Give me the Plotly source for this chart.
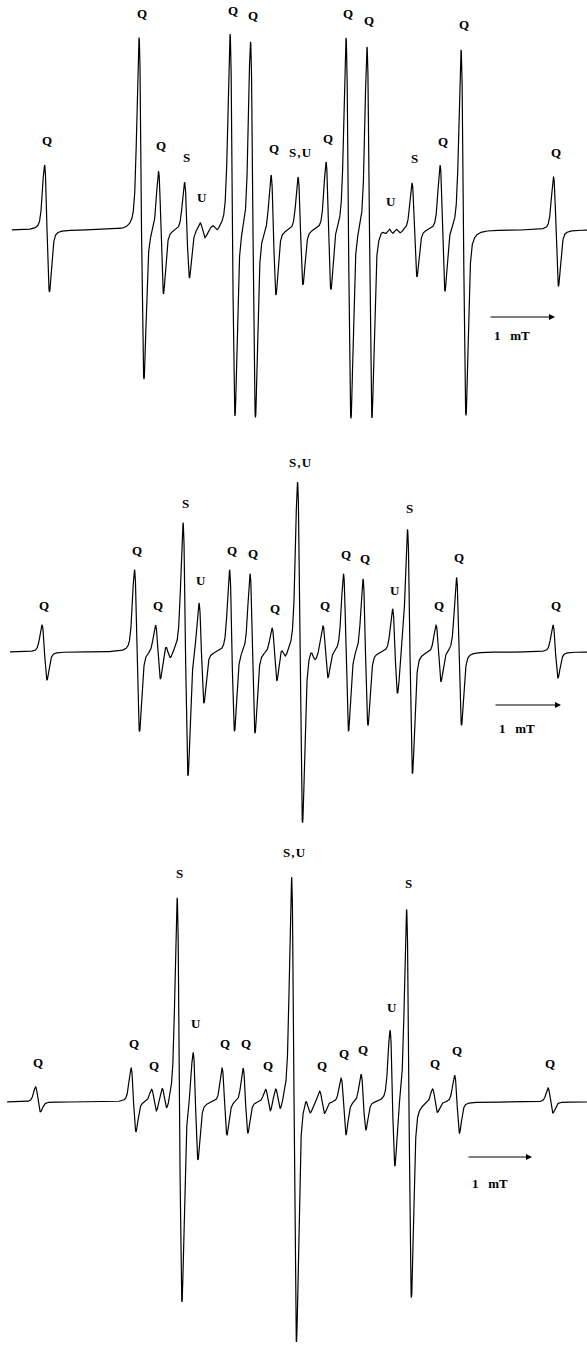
import numpy as np
import plotly.graph_objects as go

# ---------------- data (field positions in mT, amplitudes in arb. units) -------------
# Spectrum 1 (top)
top_sweep = [0.18, 8.90]
top_pos = [0.712, 2.144, 2.439, 2.833, 3.068, 3.258, 3.523, 3.833, 4.144, 4.553,
           4.977, 5.280, 5.598, 5.818, 5.924, 6.030, 6.280, 6.705, 7.023, 8.424]
top_up = [65, 192, 60, 48, 8, 3, 195, 190, 57, 53,
          67, 192, 185, 3, 4, 3, 47, 64, 181, 53]
top_down = [62, 150, 63, 48, 8, 3, 188, 187, 64, 55,
            62, 190, 187, 3, 4, 3, 47, 63, 185, 56]
top_lab = ["Q", "Q", "Q", "S", "U", "", "Q", "Q", "Q", "S,U",
           "Q", "Q", "Q", "", "U", "", "S", "Q", "Q", "Q"]

# Spectrum 2 (middle)
mid_sweep = [0.15, 8.77]
mid_pos = [0.664, 2.045, 2.358, 2.507, 2.769, 3.007, 3.463, 3.769, 4.097, 4.224,
           4.478, 4.672, 4.858, 5.164, 5.455, 5.896, 6.119, 6.545, 6.851, 8.291]
mid_up = [27, 82, 27, 7, 129, 52, 82, 79, 24, 6,
          170, 6, 27, 78, 74, 42, 124, 27, 75, 27]
mid_down = [28, 80, 28, 7, 125, 50, 80, 81, 31, 6,
            171, 6, 26, 80, 73, 45, 121, 30, 73, 26]
mid_lab = ["Q", "Q", "Q", "", "S", "U", "Q", "Q", "Q", "",
           "S,U", "", "Q", "Q", "Q", "U", "S", "Q", "Q", "Q"]

# Spectrum 3 (bottom)
bot_sweep = [0.11, 9.03]
bot_pos = [0.585, 2.054, 2.369, 2.531, 2.762, 3.008, 3.454, 3.777, 4.123, 4.277,
           4.523, 4.738, 4.954, 5.285, 5.592, 6.038, 6.292, 6.692, 7.031, 8.469]
bot_up = [15, 34, 12, 12, 204, 54, 34, 34, 12, 12,
          225, 8, 12, 24, 28, 70, 194, 14, 27, 14]
bot_down = [10, 30, 11, 11, 201, 56, 33, 31, 11, 11,
            240, 8, 11, 33, 28, 68, 195, 10, 31, 11]
bot_lab = ["Q", "Q", "Q", "", "S", "U", "Q", "Q", "Q", "",
           "S,U", "", "Q", "Q", "Q", "U", "S", "Q", "Q", "Q"]

LINEWIDTH_PP = 0.075   # peak-to-peak line width, mT
LORENTZ_FRACTION = 0.3
SCALE_BAR = 1.0        # mT

# ---------------- helpers -------------
def spectrum(x, pos, up, down, dpp, eta):
    wl = dpp * np.sqrt(3) / 2
    sg = dpp / 2
    nl = (1 / np.sqrt(3)) / (4 / 3) ** 2
    ng = np.exp(-0.5)
    y = np.zeros_like(x)
    for c, a, b in zip(pos, up, down):
        ul = (x - c) / wl
        ug = (x - c) / sg
        shape = eta * (-ul / (1 + ul ** 2) ** 2 / nl) + (1 - eta) * (-ug * np.exp(-ug ** 2 / 2) / ng)
        y += np.where(x < c, a * shape, b * shape)
    return y

W, H = 587, 1346
panels = [
    dict(sweep=top_sweep, pos=top_pos, up=top_up, down=top_down, lab=top_lab,
         ptop=0, pbot=430, base=230, s=66, bar_x=489, bar_y=317, txt_y=335, lab_shift=15),
    dict(sweep=mid_sweep, pos=mid_pos, up=mid_up, down=mid_down, lab=mid_lab,
         ptop=430, pbot=850, base=652, s=67, bar_x=494, bar_y=705, txt_y=728, lab_shift=10),
    dict(sweep=bot_sweep, pos=bot_pos, up=bot_up, down=bot_down, lab=bot_lab,
         ptop=850, pbot=1346, base=1102, s=65, bar_x=467, bar_y=1157, txt_y=1183, lab_shift=15),
]

fig = go.Figure()
annotations = []
lab_font = dict(family="Liberation Serif", size=13, color="black")

for i, p in enumerate(panels, start=1):
    xa = "x" if i == 1 else f"x{i}"
    ya = "y" if i == 1 else f"y{i}"
    x = np.linspace(p["sweep"][0], p["sweep"][1], 8000)
    y = spectrum(x, p["pos"], p["up"], p["down"], LINEWIDTH_PP, LORENTZ_FRACTION)
    fig.add_trace(go.Scatter(x=x, y=y, mode="lines", xaxis=xa, yaxis=ya,
                             line=dict(color="black", width=1.2), showlegend=False,
                             hoverinfo="skip"))
    s = p["s"]
    xr = [0, W / s]
    yr = [p["base"] - p["pbot"], p["base"] - p["ptop"]]
    dom = [1 - p["pbot"] / H, 1 - p["ptop"] / H]
    axkw = dict(visible=False, showgrid=False, zeroline=False, fixedrange=True)
    fig.update_layout({
        ("xaxis" if i == 1 else f"xaxis{i}"): dict(range=xr, domain=[0, 1], anchor=ya, **axkw),
        ("yaxis" if i == 1 else f"yaxis{i}"): dict(range=yr, domain=dom, anchor=xa, **axkw),
    })
    for c, a, t in zip(p["pos"], p["up"], p["lab"]):
        if not t:
            continue
        txt = t.replace(",", "&#8202;,&#8202;")
        annotations.append(dict(x=c, y=a, xref=xa, yref=ya, text=f"<b>{txt}</b>",
                                showarrow=False, yanchor="bottom", yshift=p["lab_shift"],
                                font=lab_font))
    x0 = p["bar_x"] / s
    yb = p["base"] - p["bar_y"]
    annotations.append(dict(x=x0 + SCALE_BAR, y=yb, ax=x0, ay=yb, xref=xa, yref=ya,
                            axref=xa, ayref=ya, text="", showarrow=True, arrowhead=2,
                            arrowsize=1, arrowwidth=1.2, arrowcolor="black"))
    annotations.append(dict(x=x0 + 0.04, y=p["base"] - p["txt_y"], xref=xa, yref=ya,
                            text="<b>1&nbsp;&nbsp;&nbsp;mT</b>", showarrow=False,
                            xanchor="left", font=lab_font))

fig.update_layout(width=W, height=H, margin=dict(l=0, r=0, t=0, b=0),
                  paper_bgcolor="white", plot_bgcolor="white",
                  annotations=annotations)
fig.write_html("out.html", config={"displayModeBar": False},
               post_script="document.body.style.margin='0';document.body.style.overflow='hidden';")
